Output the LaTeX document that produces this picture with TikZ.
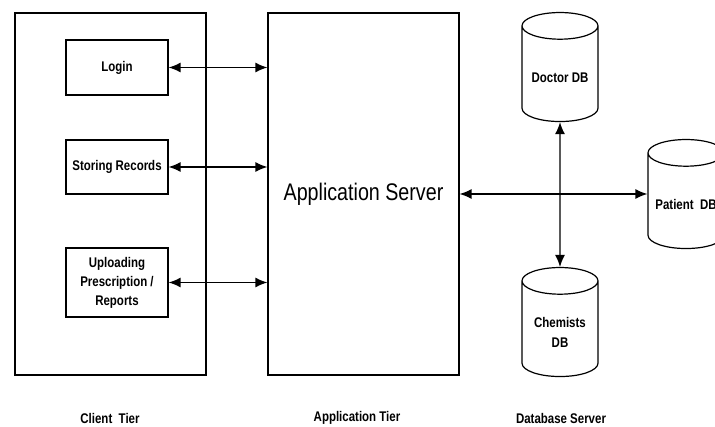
\documentclass[tikz,border=0pt]{standalone}
\usepackage{fontspec}
\setmainfont{Liberation Sans}[FakeStretch=0.82]
\usetikzlibrary{shapes.geometric, arrows.meta, positioning}
\tikzstyle{rec} = [rectangle, text centered, draw=black, line width=0.9pt, inner sep=0pt]
\tikzstyle{tier} = [rec, minimum width=143.25pt, minimum height=271.5pt]
\tikzstyle{task} = [rec, minimum width=76.5pt, align=center, font=\bfseries\fontsize{10.5}{14.25}\selectfont]
\tikzstyle{db} = [cylinder, shape border rotate=90, aspect=0.5, draw=black, line width=0.9pt, minimum width=57pt, minimum height=81.75pt, inner sep=0pt, text width=40pt]
\tikzstyle{dbtext} = [align=center, font=\bfseries\fontsize{10.5}{15}\selectfont, yshift=-2.5pt]
\tikzstyle{arrow} = [line width=1pt, <->, >={Latex[length=9pt,width=7.5pt]}]
\tikzstyle{caption} = [font=\bfseries\fontsize{10.5}{12}\selectfont]

\begin{document}
\begin{tikzpicture}[x=0.75pt, y=-0.75pt]
		\useasboundingbox (0,0) rectangle (715,427);
		\clip (0,0) rectangle (715,427);
		% client tier
		\node (client) [tier] at (110.5,194) {};
		\node (login) [task, minimum height=41.25pt] at (117,67.5) {Login};
		\node (records) [task, minimum height=40.5pt] at (117,167) {Storing Records};
		\node (upload) [task, minimum height=51.75pt] at (117,282.5) {Uploading\\Prescription /\\Reports};
		% application tier
		\node (server) [tier, font=\fontsize{18}{20}\selectfont] at (363.5,194) {Application Server};
		\draw [arrow] (login.east) -- (login.east -| server.west);
		\draw [arrow] (records.east) -- (records.east -| server.west);
		\draw [arrow] (upload.east) -- (upload.east -| server.west);
		% database server
		\node (doctor) [db, label={[dbtext]center:Doctor DB}] at (560,74) {};
		\node (chemists) [db, label={[dbtext]center:Chemists\\DB}] at (560,329) {};
		\node (patient) [db, label={[dbtext]center:Patient\ \ DB}] at (686,201) {};
		\draw [arrow] (server.east) -- (server.east -| patient.west);
		\draw [arrow] (doctor.south) -- (chemists.north);
		% captions
		\node (client_cap) [caption] at (110,418) {Client\ \ Tier};
		\node (server_cap) [caption] at (357,418) {Application Tier};
		\node (db_cap) [caption] at (561,418) {Database Server};
\end{tikzpicture}
\end{document}
